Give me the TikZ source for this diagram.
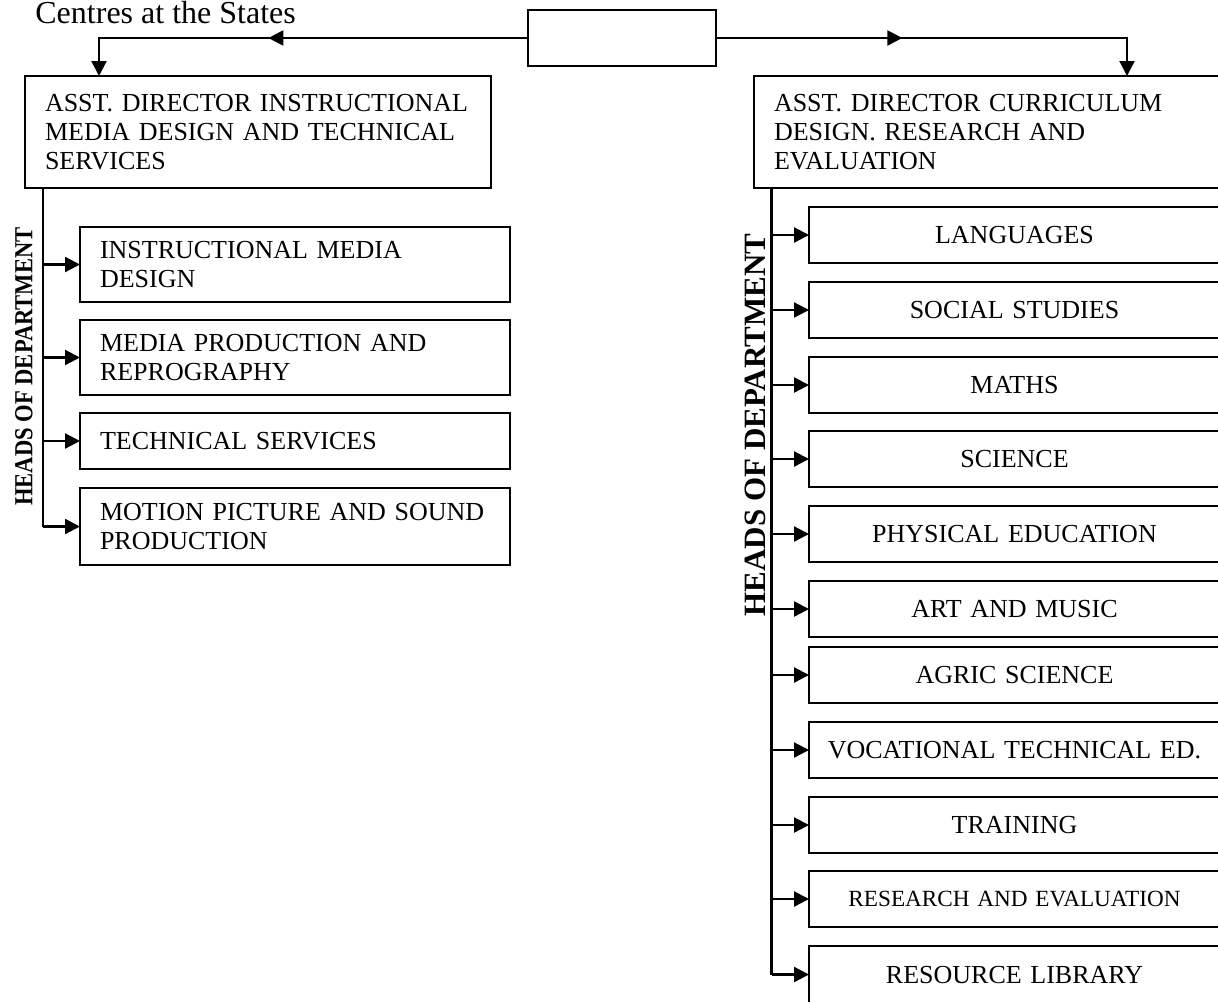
\documentclass[tikz,border=0pt]{standalone}
\usepackage{fontspec}
\setmainfont{Liberation Serif}
\usetikzlibrary{arrows.meta,decorations.markings}
\begin{document}
\begin{tikzpicture}[x=0.5pt,y=-0.5pt,
  box/.style={draw, line width=1pt, anchor=north west, inner ysep=0pt, outer sep=0pt},
  bodyfont/.style={font=\fontsize{13}{14.5}\selectfont},
  lbox/.style={box, bodyfont, minimum width=215pt, text width=195pt, inner xsep=10pt, align=left},
  rbox/.style={box, bodyfont, minimum width=205.5pt, text width=195pt, inner xsep=5.25pt, align=center, minimum height=28pt},
  adbox/.style={box, bodyfont, minimum width=233pt, text width=213pt, inner xsep=10pt, minimum height=56pt, align=left},
  conn/.style={line width=1.1pt},
  arr/.style={conn, -{Triangle[length=7.5pt,width=7.5pt]}},
  midarrow/.style={decoration={markings, mark=at position #1 with {\arrow{Triangle[length=7.5pt,width=7.5pt]}}}, postaction={decorate}}
]
\useasboundingbox (0,0) rectangle (1218,1001);

% title and top box
\node[anchor=base west, font=\fontsize{16}{18}\selectfont, inner sep=0pt] (title) at (35,24) {Centres at the States};
\node[box, minimum width=94pt, minimum height=28pt] (top) at (528,10) {};

% assistant directors
\node[adbox] (ad1) at (25,76) {ASST. DIRECTOR INSTRUCTIONAL\\ MEDIA DESIGN AND TECHNICAL\\ SERVICES};
\node[adbox] (ad2) at (754,76) {ASST. DIRECTOR CURRICULUM\\ DESIGN. RESEARCH AND\\ EVALUATION};

\coordinate (lcorner) at (99,38);
\coordinate (rcorner) at (1127,38);
\draw[arr, midarrow=0.556] (top.west) -- (lcorner) -- (lcorner |- ad1.north);
\draw[arr, midarrow=0.415] (top.east) -- (rcorner) -- (rcorner |- ad2.north);

% left departments
\node[lbox, minimum height=37.5pt] (l1) at (80,227) {INSTRUCTIONAL MEDIA\\ DESIGN};
\node[lbox, minimum height=37.5pt] (l2) at (80,320) {MEDIA PRODUCTION AND\\ REPROGRAPHY};
\node[lbox, minimum height=28pt] (l3) at (80,413) {TECHNICAL SERVICES};
\node[lbox, minimum height=38.5pt] (l4) at (80,488) {MOTION PICTURE AND SOUND\\ PRODUCTION};

% right departments
\node[rbox] (r1) at (809,207) {LANGUAGES};
\node[rbox] (r2) at (809,282) {SOCIAL STUDIES};
\node[rbox] (r3) at (809,357) {MATHS};
\node[rbox] (r4) at (809,431) {SCIENCE};
\node[rbox] (r5) at (809,506) {PHYSICAL EDUCATION};
\node[rbox] (r6) at (809,581) {ART AND MUSIC};
\node[rbox] (r7) at (809,647) {AGRIC SCIENCE};
\node[rbox] (r8) at (809,722) {VOCATIONAL TECHNICAL ED.};
\node[rbox] (r9) at (809,797) {TRAINING};
\node[rbox, font=\fontsize{11.6}{13}\selectfont] (r10) at (809,871) {RESEARCH AND EVALUATION};
\node[rbox, minimum height=28.5pt] (r11) at (809,946) {RESOURCE LIBRARY};

% stems
\coordinate (lstem) at (43,188);
\coordinate (rstem) at (771.5,188);
\draw[conn] (lstem) -- (lstem |- l4.west);
\foreach \n in {l1,l2,l3,l4} \draw[arr] (lstem |- \n.west) -- (\n.west);
\draw[conn] (rstem) -- (rstem |- r11.west);
\foreach \n in {r1,r2,r3,r4,r5,r6,r7,r8,r9,r10,r11} \draw[arr] (rstem |- \n.west) -- (\n.west);

% vertical labels
\node[rotate=90, font=\bfseries\fontsize{13}{14}\selectfont, inner sep=0pt] (hodl) at (24,366.5) {\scalebox{0.868}[1]{HEADS OF DEPARTMENT}};
\node[rotate=90, font=\bfseries\fontsize{15.5}{17}\selectfont, inner sep=0pt] (hodr) at (755,425) {HEADS OF DEPARTMENT};
\end{tikzpicture}
\end{document}
